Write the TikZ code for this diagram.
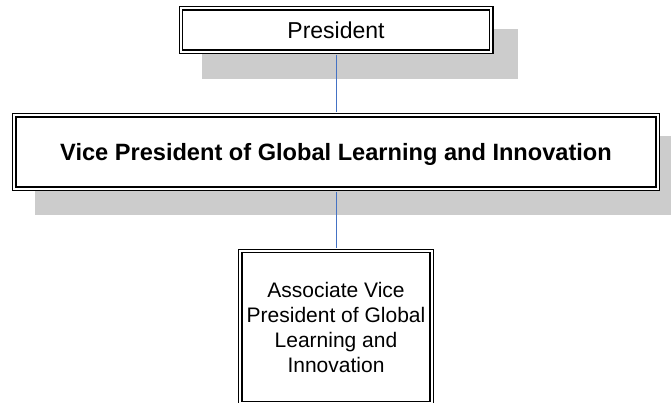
\documentclass[tikz,border=0pt]{standalone}
\usepackage{fontspec}
\setmainfont{Liberation Sans}
\usepackage{xcolor}
\usetikzlibrary{calc}

\definecolor{linkblue}{RGB}{68,114,196}
\definecolor{shadowgray}{RGB}{204,204,204}

\tikzset{
  orgbox/.style={draw=black, line width=1.4pt, double=white, double distance=1.8pt,
    fill=white, inner sep=0pt, align=center},
  boxshadow/.style={fill=shadowgray},
  link/.style={draw=linkblue, line width=1pt, shorten <=2.3pt, shorten >=2.3pt}
}

\begin{document}
\begin{tikzpicture}[x=1pt,y=-1pt]

    % Frame
    \clip (0,0) rectangle (671,402);

    % Centres
    \coordinate (P) at (336,30);
    \coordinate (V) at (336,152);
    \coordinate (A) at (336,327);

    % Shadows
    \fill[boxshadow] ($(P)+(-134,-1)$) rectangle ($(P)+(182,49)$);
    \fill[boxshadow] ($(V)+(-301,-16)$) rectangle ($(V)+(348,63)$);

    % Boxes
    \node[orgbox, minimum width=310.4pt, minimum height=43.4pt,
      font=\fontsize{23}{27}\selectfont] (pres) at (P) {President};
    \node[orgbox, minimum width=643.4pt, minimum height=73.4pt, text depth=0pt,
      font=\fontsize{23.6}{28}\selectfont\bfseries] (vp) at (V)
      {Vice President of Global Learning and Innovation};
    \node[orgbox, minimum width=191.4pt, minimum height=152pt,
      font=\fontsize{21}{25}\selectfont] (avp) at (A)
      {Associate Vice\\President of Global\\Learning and\\Innovation};

    % Connectors
    \draw[link] (pres.south) -- (vp.north);
    \draw[link] (vp.south) -- (avp.north);

\end{tikzpicture}
\end{document}
